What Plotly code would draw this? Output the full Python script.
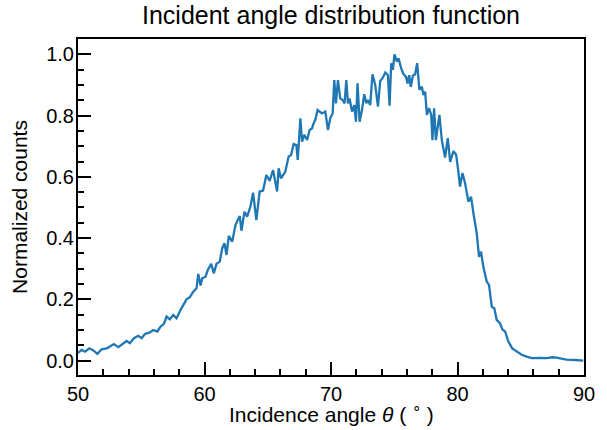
import plotly.graph_objects as go

angle_deg = [
    50.0, 50.29, 50.55, 50.9, 51.22, 51.53, 51.87, 52.27, 52.53, 52.84,
    53.19, 53.58, 53.84, 54.1, 54.42, 54.77, 55.03, 55.29, 55.64, 55.95,
    56.27, 56.53, 56.79, 57.0, 57.26, 57.53, 57.79, 58.1, 58.37, 58.58,
    58.84, 59.11, 59.37, 59.51, 59.69, 59.82, 60.08, 60.26, 60.53, 60.73,
    60.95, 61.21, 61.4, 61.58, 61.74, 61.92, 62.19, 62.45, 62.63, 62.79,
    62.92, 63.16, 63.37, 63.63, 63.84, 64.1, 64.36, 64.63, 64.89, 65.15,
    65.42, 65.6, 65.74, 65.86, 66.05, 66.39, 66.65, 66.84, 67.05, 67.26,
    67.37, 67.58, 67.71, 67.89, 68.11, 68.31, 68.5, 68.63, 68.76, 68.94,
    69.29, 69.55, 69.76, 69.94, 70.13, 70.26, 70.39, 70.55, 70.73, 70.92,
    71.07, 71.21, 71.34, 71.47, 71.66, 71.84, 71.97, 72.1, 72.26, 72.45,
    72.63, 72.79, 72.92, 73.1, 73.28, 73.5, 73.71, 73.89, 74.07, 74.29,
    74.5, 74.63, 74.76, 74.89, 75.02, 75.21, 75.34, 75.55, 75.73, 75.92,
    76.05, 76.18, 76.31, 76.47, 76.65, 76.81, 76.99, 77.18, 77.31, 77.44,
    77.58, 77.76, 77.92, 78.02, 78.15, 78.29, 78.57, 78.76, 79.02, 79.23,
    79.42, 79.68, 79.89, 80.02, 80.2, 80.39, 80.6, 80.86, 81.07, 81.26,
    81.52, 81.7, 81.86, 82.04, 82.31, 82.49, 82.71, 82.91, 83.1, 83.36,
    83.54, 83.76, 84.02, 84.33, 84.68, 85.07, 85.47, 85.86, 86.5, 87.05,
    87.5, 87.84, 88.3, 88.63, 89.3, 89.94,
]

normalized_counts = [
    0.025, 0.035, 0.029, 0.040, 0.033, 0.022, 0.037, 0.040, 0.046, 0.054,
    0.044, 0.057, 0.064, 0.057, 0.073, 0.081, 0.073, 0.087, 0.091, 0.100,
    0.095, 0.111, 0.120, 0.144, 0.135, 0.149, 0.138, 0.165, 0.187, 0.200,
    0.207, 0.225, 0.236, 0.283, 0.245, 0.269, 0.274, 0.296, 0.316, 0.285,
    0.316, 0.323, 0.367, 0.383, 0.345, 0.407, 0.388, 0.443, 0.459, 0.472,
    0.424, 0.486, 0.470, 0.503, 0.548, 0.459, 0.552, 0.555, 0.606, 0.587,
    0.622, 0.584, 0.552, 0.628, 0.595, 0.617, 0.666, 0.671, 0.707, 0.704,
    0.655, 0.791, 0.715, 0.737, 0.720, 0.753, 0.758, 0.775, 0.786, 0.818,
    0.807, 0.813, 0.753, 0.791, 0.807, 0.916, 0.840, 0.916, 0.856, 0.851,
    0.840, 0.916, 0.840, 0.856, 0.813, 0.834, 0.780, 0.905, 0.780, 0.818,
    0.870, 0.840, 0.851, 0.834, 0.935, 0.900, 0.829, 0.913, 0.922, 0.941,
    0.932, 0.832, 0.971, 0.949, 1.000, 0.976, 0.987, 0.954, 0.935, 0.927,
    0.905, 0.932, 0.894, 0.930, 0.935, 0.971, 0.884, 0.894, 0.867, 0.878,
    0.802, 0.824, 0.802, 0.720, 0.824, 0.720, 0.802, 0.720, 0.663, 0.726,
    0.649, 0.684, 0.672, 0.633, 0.568, 0.612, 0.579, 0.519, 0.535, 0.481,
    0.416, 0.339, 0.356, 0.307, 0.258, 0.247, 0.176, 0.171, 0.133, 0.122,
    0.102, 0.095, 0.062, 0.040, 0.029, 0.019, 0.013, 0.008, 0.009, 0.008,
    0.011, 0.010, 0.006, 0.003, 0.002, 0.000,
]

x_ticks = [50, 60, 70, 80, 90]
y_ticks = [0.0, 0.2, 0.4, 0.6, 0.8, 1.0]
y_tick_labels = ["0.0", "0.2", "0.4", "0.6", "0.8", "1.0"]

FONT = "Liberation Sans, Arial, Helvetica, sans-serif"

fig = go.Figure()
fig.add_trace(go.Scatter(
    x=angle_deg, y=normalized_counts, mode="lines",
    line=dict(color="#1f77b4", width=2.3),
    showlegend=False,
))

fig.update_layout(
    width=607, height=430,
    margin=dict(l=78, r=23, t=39, b=55),
    paper_bgcolor="white", plot_bgcolor="white",
    font=dict(family=FONT, size=20, color="black"),
    title=dict(text="Incident angle distribution function",
               x=0.5, xref="paper", xanchor="center",
               y=1, yref="container", yanchor="top", pad=dict(t=6),
               font=dict(size=25, family=FONT, color="black")),
)

fig.add_annotation(
    text="Incidence angle <i>θ</i> ( <sup>∘</sup> )",
    x=0.5, y=0, xref="paper", yref="paper",
    xanchor="center", yanchor="top", yshift=-23,
    showarrow=False, font=dict(size=21, family=FONT, color="black"),
)

fig.update_xaxes(
    range=[50, 90], tickvals=x_ticks, ticks="inside", ticklen=13, tickwidth=2,
    tickcolor="black", showline=True, linecolor="black", linewidth=2,
    mirror=True, showgrid=False, zeroline=False, automargin=False,
    minor=dict(ticks="inside", dtick=2, ticklen=6, tickwidth=1.5, tickcolor="black", showgrid=False),
    tickfont=dict(size=20),
)
fig.update_yaxes(
    range=[-0.047, 1.05], tickvals=y_ticks, ticktext=y_tick_labels,
    ticks="inside", ticklen=13, tickwidth=2,
    tickcolor="black", showline=True, linecolor="black", linewidth=2,
    mirror=True, showgrid=False, zeroline=False, automargin=False,
    minor=dict(ticks="inside", dtick=0.05, tick0=0, ticklen=6, tickwidth=1.5, tickcolor="black", showgrid=False),
    title=dict(text="Normalized counts", font=dict(size=21), standoff=13),
    tickfont=dict(size=20), ticklabelstandoff=-2,
)

fig.write_html("out.html")
